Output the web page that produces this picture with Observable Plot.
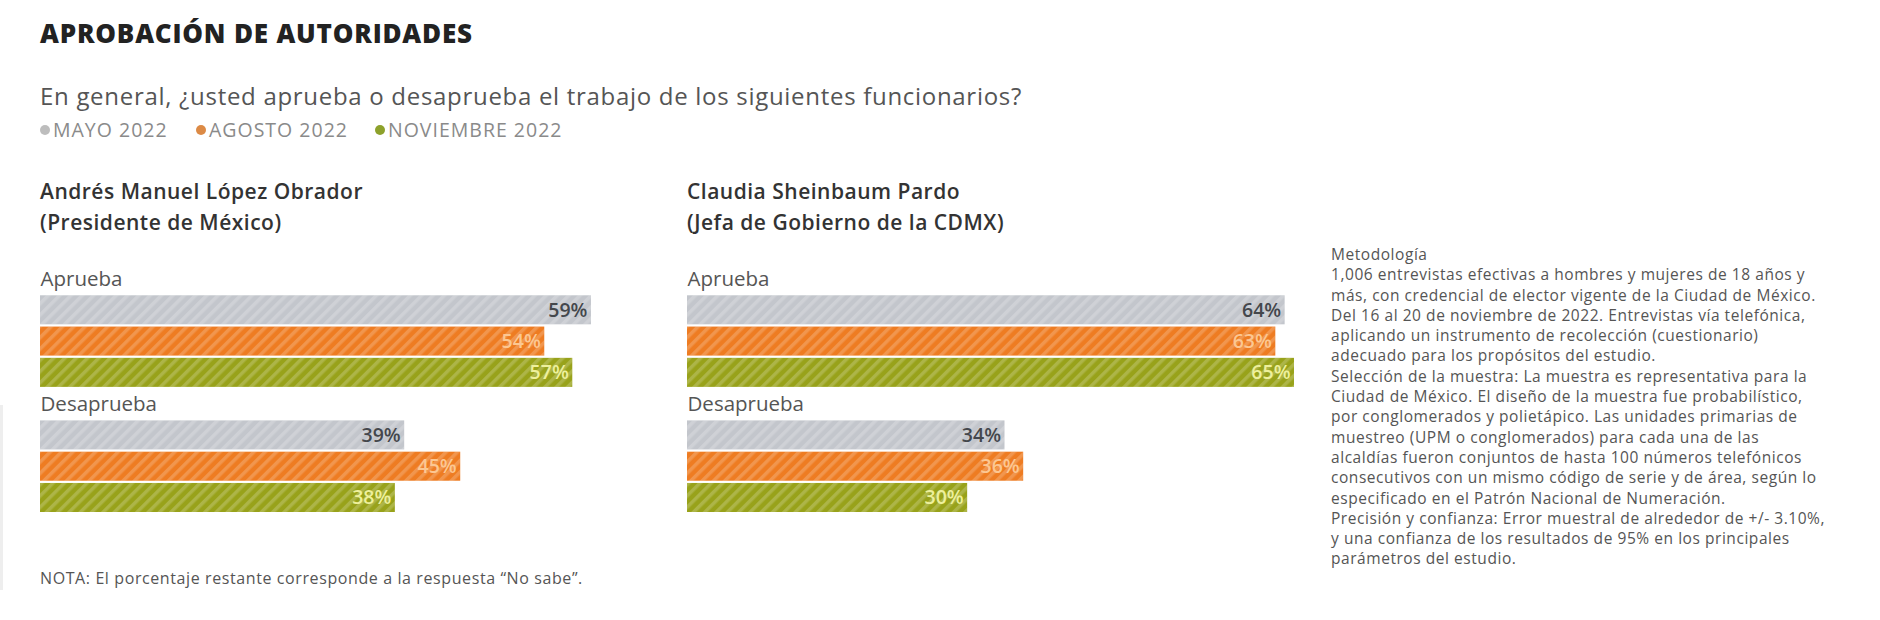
<!DOCTYPE html>
<html><head><meta charset="utf-8">
<script src="https://cdn.jsdelivr.net/npm/d3@7"></script>
<script src="https://cdn.jsdelivr.net/npm/@observablehq/plot@0.6"></script>
<style>
body{margin:0;background:#fff;font-family:"Open Sans",sans-serif;}
#root{position:relative;width:1880px;height:620px;overflow:hidden;background:#fff;}
.abs{position:absolute;white-space:nowrap;}
#title{left:40px;top:15px;font-size:26px;font-weight:800;color:#222;letter-spacing:0.8px;}
#subtitle{left:40px;top:79px;font-size:24px;color:#555;letter-spacing:0.7px;line-height:33px;}
.legitem{top:119px;font-size:19.5px;color:#8a8a8a;letter-spacing:1px;display:flex;align-items:center;line-height:22px;}
.legitem span.dot{display:inline-block;width:10px;height:10px;border-radius:50%;margin-right:3px;}
.head{font-size:21px;font-weight:600;color:#333;line-height:31px;letter-spacing:0.5px;}
#note{left:40px;top:567px;font-size:16px;color:#555;letter-spacing:0.6px;}
#method{left:1331px;top:244px;font-size:15.5px;color:#555;line-height:20.3px;letter-spacing:0.55px;}
#edge{left:0px;top:405px;width:3px;height:185px;background:#eeeeee;}
</style></head><body><div id="root"></div>
<script>
const title = "APROBACIÓN DE AUTORIDADES";
const subtitle = "En general, ¿usted aprueba o desaprueba el trabajo de los siguientes funcionarios?";
const periods = ["MAYO 2022", "AGOSTO 2022", "NOVIEMBRE 2022"];
const periodColors = ["#c3c6cc", "#ee7c22", "#98a21a"];
const legendDotColors = ["#bdbdbd", "#dc8a45", "#8da12b"];
const labelColors = ["#44474c", "#fcc792", "#eef09c"];
const responses = ["Aprueba", "Desaprueba"];
const people = ["Andrés Manuel López Obrador", "Claudia Sheinbaum Pardo"];
const roles = ["(Presidente de México)", "(Jefa de Gobierno de la CDMX)"];
const amloAprueba = [59, 54, 57];
const amloDesaprueba = [39, 45, 38];
const csAprueba = [64, 63, 65];
const csDesaprueba = [34, 36, 30];
const note = "NOTA: El porcentaje restante corresponde a la respuesta \u201CNo sabe\u201D.";
const methodLines = [
  "Metodología",
  "1,006 entrevistas efectivas a hombres y mujeres de 18 años y",
  "más, con credencial de elector vigente de la Ciudad de México.",
  "Del 16 al 20 de noviembre de 2022. Entrevistas vía telefónica,",
  "aplicando un instrumento de recolección (cuestionario)",
  "adecuado para los propósitos del estudio.",
  "Selección de la muestra: La muestra es representativa para la",
  "Ciudad de México. El diseño de la muestra fue probabilístico,",
  "por conglomerados y polietápico. Las unidades primarias de",
  "muestreo (UPM o conglomerados) para cada una de las",
  "alcaldías fueron conjuntos de hasta 100 números telefónicos",
  "consecutivos con un mismo código de serie y de área, según lo",
  "especificado en el Patrón Nacional de Numeración.",
  "Precisión y confianza: Error muestral de alrededor de +/- 3.10%,",
  "y una confianza de los resultados de 95% en los principales",
  "parámetros del estudio."
];

const panelValues = [[amloAprueba, amloDesaprueba], [csAprueba, csDesaprueba]];
const panelLeft = [40, 687];
const legendLeft = [40, 196, 375];

const root = document.getElementById("root");
function addDiv(id, html, cls) {
  const d = document.createElement("div");
  if (id) d.id = id;
  d.className = "abs" + (cls ? " " + cls : "");
  d.innerHTML = html;
  root.appendChild(d);
  return d;
}
addDiv("title", title);
addDiv("subtitle", subtitle);
periods.forEach((p, i) => {
  const it = addDiv(null, `<span class="dot" style="background:${legendDotColors[i]}"></span>${p}`, "legitem");
  it.style.left = legendLeft[i] + "px";
});

const yDomain = [];
responses.forEach(r => { yDomain.push(r); periods.forEach(p => yDomain.push(r + "|" + p)); });

panelValues.forEach((vals, pi) => {
  const h = addDiv(null, people[pi] + "<br>" + roles[pi], "head");
  h.style.left = panelLeft[pi] + "px";
  h.style.top = "176px";

  const rows = [];
  responses.forEach((r, ri) => periods.forEach((p, k) =>
    rows.push({response: r, period: p, key: r + "|" + p, value: vals[ri][k], k})));

  const pid = "stripes" + pi;
  const svg = Plot.plot({
    width: 635,
    height: 262,
    marginLeft: 0, marginRight: 0, marginTop: 8, marginBottom: 6,
    x: {domain: [0, 68], axis: null},
    y: {domain: yDomain, axis: null, paddingInner: 0.072, paddingOuter: 0, round: false},
    color: {domain: periods, range: periodColors},
    style: {fontFamily: "Open Sans, sans-serif", background: "transparent", overflow: "visible"},
    marks: [
      Plot.barX(rows, {x: "value", y: "key", fill: "period"}),
      Plot.barX(rows, {x: "value", y: "key", fill: `url(#${pid})`}),
      ...periods.map((p, i) => Plot.text(rows.filter(d => d.period === p), {
        x: "value", y: "key", text: d => d.value + "%", textAnchor: "end", dx: -4,
        fill: labelColors[i], fontSize: 19.5, fontWeight: 600, letterSpacing: "-1px"
      })),
      Plot.text(responses, {y: d => d, text: d => d, frameAnchor: "left", textAnchor: "start",
        fill: "#555", fontSize: 20.5})
    ]
  });
  const defs = d3.select(svg).insert("defs", ":first-child");
  const pat = defs.append("pattern").attr("id", pid).attr("patternUnits", "userSpaceOnUse")
    .attr("width", 8).attr("height", 8).attr("patternTransform", "rotate(45)");
  pat.append("rect").attr("x", 0).attr("y", 0).attr("width", 3.5).attr("height", 8)
    .attr("fill", "#ffffff").attr("fill-opacity", 0.2);
  svg.style.position = "absolute";
  svg.style.left = panelLeft[pi] + "px";
  svg.style.top = "256px";
  root.appendChild(svg);
});

addDiv("note", note);
addDiv("method", methodLines.join("<br>"));
addDiv("edge", "");
</script>
</body></html>
